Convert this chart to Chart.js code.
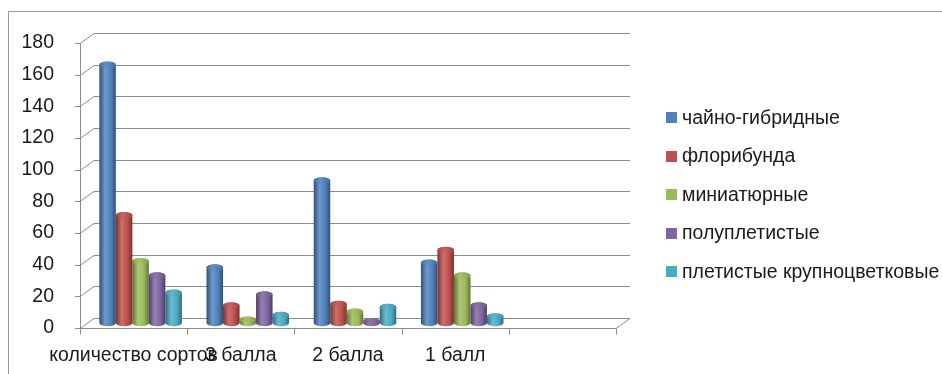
<!DOCTYPE html>
<html><head><meta charset="utf-8">
<script src="https://cdn.jsdelivr.net/npm/chart.js@4"></script>
<style>html,body{margin:0;padding:0;background:#fff}#wrap{width:942px;height:374px;position:relative}</style>
</head><body><div id="wrap"><canvas id="c" width="942" height="374"></canvas></div>
<script>
const categories = ['количество сортов', '3 балла', '2 балла', '1 балл', ''];
const seriesNames = ['чайно-гибридные', 'флорибунда', 'миниатюрные', 'полуплетистые', 'плетистые крупноцветковые'];
const hybridTea     = [163, 35, 90, 38, null];
const floribunda    = [68, 11, 12, 46, null];
const miniature     = [39, 2, 7, 30, null];
const semiClimbing  = [30, 18, 1, 11, null];
const largeClimbing = [19, 5, 10, 4, null];
const yMin = 0, yMax = 180, yStep = 20;
const seriesColors = ['#4F81BD', '#C0504D', '#9BBB59', '#8064A2', '#4BACC6'];

const FONT = '"Liberation Sans", Arial, sans-serif';
const FS = 19.5;
const DEPTH_X = 14, DEPTH_Y = -10;
const GRID = '#8c8c8c';

function mix(hex, target, f) {
  const n = parseInt(hex.slice(1), 16);
  const r = (n >> 16) & 255, g = (n >> 8) & 255, b = n & 255;
  const m = (c) => Math.round(c + (target - c) * f);
  return 'rgb(' + m(r) + ',' + m(g) + ',' + m(b) + ')';
}

const depthPlugin = {
  id: 'depth3d',
  beforeDatasetsDraw(chart) {
    const ctx = chart.ctx, y = chart.scales.y, x = chart.scales.x;
    const L = chart.chartArea.left, R = chart.chartArea.right;
    ctx.save();
    ctx.strokeStyle = GRID;
    ctx.lineWidth = 1;
    ctx.beginPath();
    for (let v = yMin; v <= yMax; v += yStep) {
      const py = Math.round(y.getPixelForValue(v)) + 0.5;
      ctx.moveTo(L - 5, py); ctx.lineTo(L, py);
      ctx.lineTo(L + DEPTH_X, py + DEPTH_Y);
      ctx.lineTo(R + DEPTH_X, py + DEPTH_Y);
    }
    const y0 = Math.round(y.getPixelForValue(yMin)) + 0.5;
    const yT = Math.round(y.getPixelForValue(yMax)) + 0.5;
    const lx = Math.round(L) + 0.5;
    ctx.moveTo(lx, y0); ctx.lineTo(lx, yT);
    ctx.moveTo(L, y0); ctx.lineTo(R, y0); ctx.lineTo(R + DEPTH_X, y0 + DEPTH_Y);
    const half = (x.getPixelForValue(1) - x.getPixelForValue(0)) / 2;
    for (let i = 0; i <= categories.length; i++) {
      const px = Math.round(x.getPixelForValue(i) - half) + 0.5;
      ctx.moveTo(px, y0); ctx.lineTo(px, y0 + 6);
    }
    ctx.stroke();
    ctx.restore();
  },
  beforeDatasetDraw(chart, args) {
    const ctx = chart.ctx;
    const meta = args.meta;
    const base = seriesColors[args.index];
    const dark = mix(base, 0, 0.38);
    const light = mix(base, 255, 0.18);
    const capLight = mix(base, 255, 0.12);
    ctx.save();
    meta.data.forEach((el, i) => {
      const v = chart.data.datasets[args.index].data[i];
      if (v === null || v === undefined) return;
      const w = el.width;
      const cx = el.x + DEPTH_X / 2;
      const top = el.y + DEPTH_Y / 2;
      const bot = el.base + DEPTH_Y / 2;
      const rx = w / 2, ry = Math.max(2, w * 0.2);
      const g = ctx.createLinearGradient(cx - rx, 0, cx + rx, 0);
      g.addColorStop(0, dark);
      g.addColorStop(0.35, light);
      g.addColorStop(0.7, base);
      g.addColorStop(1, dark);
      ctx.beginPath();
      ctx.moveTo(cx - rx, top);
      ctx.lineTo(cx - rx, bot);
      ctx.ellipse(cx, bot, rx, ry, 0, Math.PI, 0, true);
      ctx.lineTo(cx + rx, top);
      ctx.ellipse(cx, top, rx, ry, 0, 0, Math.PI, true);
      ctx.closePath();
      ctx.fillStyle = g;
      ctx.fill();
      const g2 = ctx.createLinearGradient(cx - rx, 0, cx + rx, 0);
      g2.addColorStop(0, mix(base, 0, 0.15));
      g2.addColorStop(0.4, capLight);
      g2.addColorStop(1, mix(base, 0, 0.15));
      ctx.beginPath();
      ctx.ellipse(cx, top, rx, ry, 0, 0, Math.PI * 2);
      ctx.fillStyle = g2;
      ctx.fill();
    });
    ctx.restore();
    return false;
  },
  afterDraw(chart) {
    const ctx = chart.ctx;
    const ca = chart.chartArea;
    ctx.save();
    ctx.strokeStyle = '#9a9a9a';
    ctx.lineWidth = 1;
    ctx.beginPath();
    ctx.moveTo(8.5, chart.height); ctx.lineTo(8.5, 11.5); ctx.lineTo(chart.width, 11.5);
    ctx.stroke();
    ctx.font = FS + 'px ' + FONT;
    ctx.textBaseline = 'middle';
    ctx.textAlign = 'left';
    const gap = 38.5;
    const midY = (ca.top + ca.bottom) / 2 + 9;
    const startY = midY - gap * (seriesNames.length - 1) / 2;
    const bx = ca.right + 50;
    seriesNames.forEach((n, i) => {
      const cy = startY + i * gap;
      ctx.fillStyle = seriesColors[i];
      ctx.fillRect(bx, Math.round(cy - 5.5), 11, 11);
      ctx.fillStyle = '#1a1a1a';
      ctx.fillText(n, bx + 16, cy + 1);
    });
    ctx.restore();
  }
};

const seriesData = [hybridTea, floribunda, miniature, semiClimbing, largeClimbing];

new Chart(document.getElementById('c'), {
  type: 'bar',
  data: {
    labels: categories,
    datasets: seriesNames.map((n, i) => ({
      label: n,
      data: seriesData[i],
      backgroundColor: seriesColors[i],
      categoryPercentage: 0.77,
      barPercentage: 1.0
    }))
  },
  options: {
    responsive: false,
    animation: false,
    devicePixelRatio: 1,
    layout: { padding: { left: 0, top: 43, right: 326, bottom: 0 } },
    plugins: { legend: { display: false }, tooltip: { enabled: false } },
    scales: {
      x: {
        grid: { display: false },
        border: { display: false },
        ticks: { autoSkip: false, maxRotation: 0, minRotation: 0, padding: 8,
                 color: '#1a1a1a', font: { family: FONT, size: FS } },
        afterFit(s) { s.height = 46; }
      },
      y: {
        min: yMin, max: yMax,
        grid: { display: false },
        border: { display: false },
        ticks: { stepSize: yStep, padding: 18, color: '#1a1a1a', font: { family: FONT, size: FS } },
        afterFit(s) { s.width = 80; }
      }
    }
  },
  plugins: [depthPlugin]
});
</script>
</body></html>
